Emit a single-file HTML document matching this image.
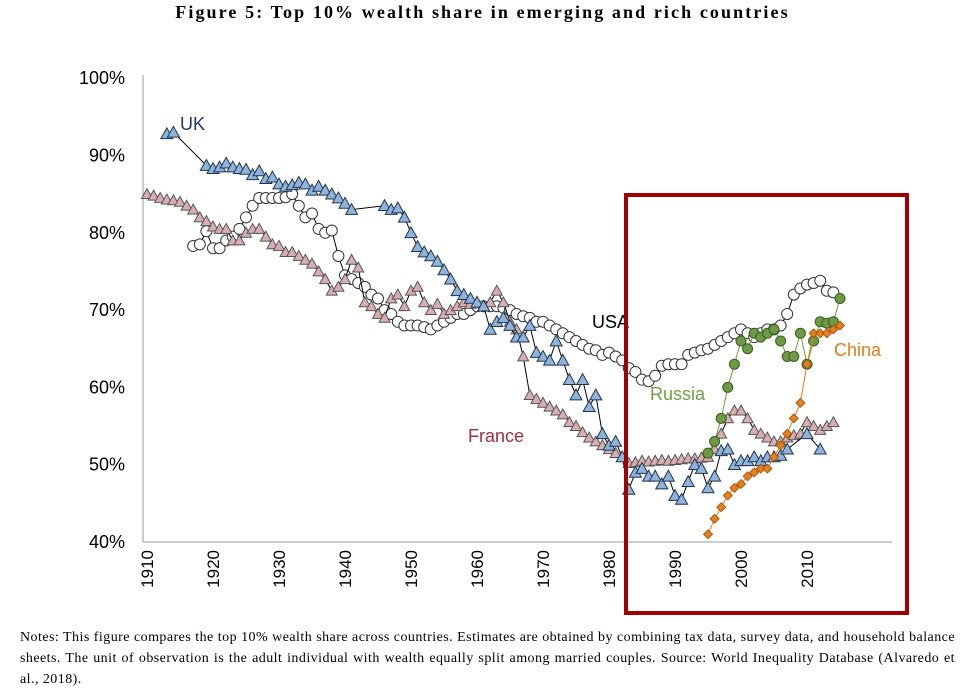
<!DOCTYPE html>
<html><head><meta charset="utf-8"><style>
body{margin:0;background:#fff;width:965px;height:700px;overflow:hidden;font-family:"Liberation Sans",sans-serif}
#title{position:absolute;top:2px;left:0;width:965px;text-align:center;font:bold 18px "Liberation Serif",serif;letter-spacing:2.1px}
#notes{position:absolute;top:627px;left:20px;width:935px;font:14px/21px "Liberation Serif",serif;letter-spacing:0.45px;text-align:justify}
svg{position:absolute;top:0;left:0}
</style></head><body>
<div id="title">Figure 5: Top 10% wealth share in emerging and rich countries</div>
<svg id="chart" width="965" height="700"></svg>
<div id="notes">Notes: This figure compares the top 10% wealth share across countries. Estimates are obtained by combining tax data, survey data, and household balance sheets. The unit of observation is the adult individual with wealth equally split among married couples. Source: World Inequality Database (Alvaredo et al., 2018).</div>
<script>
const yTicks=[40,50,60,70,80,90,100];
const xTicks=[1910,1920,1930,1940,1950,1960,1970,1980,1990,2000,2010];
const ukYears=[1913,1914,1919,1920,1921,1922,1923,1924,1925,1926,1927,1928,1929,1930,1931,1932,1933,1934,1935,1936,1937,1938,1939,1940,1941,1946,1947,1948,1949,1950,1951,1952,1953,1954,1955,1956,1957,1958,1959,1960,1961,1962,1963,1964,1965,1966,1967,1968,1969,1970,1971,1972,1973,1974,1975,1976,1977,1978,1979,1980,1981,1982,1983,1984,1985,1986,1987,1988,1989,1990,1991,1992,1993,1994,1995,1996,1997,1998,1999,2000,2001,2002,2003,2004,2005,2006,2007,2010,2012];
const ukValues=[92.8,93,88.7,88.3,88.5,89,88.5,88.3,88.2,87.5,88,87,87.2,86.3,86,86.2,86.5,86.3,85.5,86,85.5,85,84.5,83.8,83,83.5,83,83.2,82,80,78.2,77.5,77,76.3,75.2,74,72.5,72,71.5,71,70.5,67.5,68.5,69,68,66.5,66.5,68,64.5,64,63.5,66,63.5,61,59,61,57.5,59,54,52.5,53,51,46.8,49,49.5,48.5,48.5,47.5,48.5,46,45.5,47.8,50,49.5,47,48.5,51.8,52,50,50.5,50.5,51,50.5,51,51,51.2,52,54,52];
const usYears=[1917,1918,1919,1920,1921,1922,1923,1924,1925,1926,1927,1928,1929,1930,1931,1932,1933,1934,1935,1936,1937,1938,1939,1940,1941,1942,1943,1944,1945,1946,1947,1948,1949,1950,1951,1952,1953,1954,1955,1956,1957,1958,1959,1960,1961,1962,1963,1964,1965,1966,1967,1968,1969,1970,1971,1972,1973,1974,1975,1976,1977,1978,1979,1980,1981,1982,1983,1984,1985,1986,1987,1988,1989,1990,1991,1992,1993,1994,1995,1996,1997,1998,1999,2000,2001,2002,2003,2004,2005,2006,2007,2008,2009,2010,2011,2012,2013,2014];
const usValues=[78.3,78.5,80.2,78,78,79,79.5,80.5,82,83.5,84.5,84.5,84.5,84.5,84.6,85,83.5,82,82.5,80.5,80,80.3,77,74.5,74,73.5,73,72,71.5,70,69.5,68.5,68,68,68,67.8,67.5,68,68.5,69,69.5,69.5,70,70.5,70.5,70.5,70.5,70.3,70,69.5,69.2,69,68.5,68.5,68,67.5,67,66.5,66,65.5,65,64.8,64.2,64.5,64,63.5,62.5,62,61,60.8,61.5,62.8,63,63,63,64.2,64.5,64.8,65,65.5,66,66.5,67,67.5,67,66.5,67,67.5,67.5,68,69.5,72,72.8,73.3,73.5,73.8,72.5,72.3];
const frYears=[1910,1911,1912,1913,1914,1915,1916,1917,1918,1919,1920,1921,1922,1923,1924,1925,1926,1927,1928,1929,1930,1931,1932,1933,1934,1935,1936,1937,1938,1939,1940,1941,1942,1943,1944,1945,1946,1947,1948,1949,1950,1951,1952,1953,1954,1955,1956,1957,1958,1959,1960,1961,1962,1963,1964,1965,1966,1967,1968,1969,1970,1971,1972,1973,1974,1975,1976,1977,1978,1979,1980,1981,1982,1983,1984,1985,1986,1987,1988,1989,1990,1991,1992,1993,1994,1995,1996,1997,1998,1999,2000,2001,2002,2003,2004,2005,2006,2007,2008,2009,2010,2011,2012,2013,2014];
const frValues=[85,84.8,84.5,84.3,84.2,84,83.5,83,82,81.5,80.8,80.5,80.5,79,79,80,80.5,80.5,79.5,78.5,78.3,77.5,77.5,77,76.5,76,75,74,72.5,73,74,76.5,75.5,71,70.5,69.5,69,71.5,72,70.5,72.5,73,71,70,70.8,69.5,70,70.5,71,70.8,71,70.5,71,72.5,71,68.5,67.5,64,59,58.5,58,57.5,57,56.5,55.5,55,54.2,53.5,53,52.5,52,51.5,51,50.2,50.3,50.5,50.4,50.5,50.6,50.5,50.6,50.7,50.8,50.8,50.9,51,52,54,56,57,57,56,54.5,54,53.5,53,53,53.5,53.8,54,55.5,55,54.5,55,55.5];
const ruYears=[1995,1996,1997,1998,1999,2000,2001,2002,2003,2004,2005,2006,2007,2008,2009,2010,2011,2012,2013,2014,2015];
const ruValues=[51.5,53,56,60,63,66,65,67,66.5,67,67.5,66,64,64,67,63,66,68.5,68.3,68.5,71.5];
const cnYears=[1995,1996,1997,1998,1999,2000,2001,2002,2003,2004,2005,2006,2007,2008,2009,2010,2011,2012,2013,2014,2015];
const cnValues=[41,43,44.5,46,47,47.5,48.5,49,49.5,49.5,51,52.5,54,56,58,63,67,67,67,67.5,68];

const NS="http://www.w3.org/2000/svg";
const svg=document.getElementById('chart');
const X=yr=>147+(yr-1910)*6.6;
const Y=v=>542-(v-40)*7.73;
function mk(tag,at,parent){const e=document.createElementNS(NS,tag);for(const k in at)e.setAttribute(k,at[k]);(parent||svg).appendChild(e);return e;}

const axY=mk('line',{x1:143,y1:75,x2:143,y2:542,stroke:'#999','stroke-width':1});


const axX=mk('line',{x1:143,y1:542,x2:892,y2:542,stroke:'#999','stroke-width':1});


yTicks.forEach(v=>{const t=mk('text',{x:125,y:Y(v)+6,'text-anchor':'end','font-size':18,fill:'#000'});t.textContent=v+'%';

});
xTicks.forEach(v=>{const t=mk('text',{x:0,y:0,'text-anchor':'end','font-size':17,fill:'#000',transform:`translate(${X(v)+6},550) rotate(-90)`});t.textContent=v;

});

function series(name,yrs,vals,lineColor,marker,fill,stroke,sz){
 const g=mk('g',{});
 
 
 let d='';yrs.forEach((y,i)=>{d+=(i?'L':'M')+X(y).toFixed(1)+' '+Y(vals[i]).toFixed(1);});
 mk('path',{d:d,fill:'none',stroke:lineColor,'stroke-width':1},g);
 yrs.forEach((y,i)=>{const x=X(y),yy=Y(vals[i]);let m;
  if(marker==='tri')m=mk('polygon',{points:`${x},${yy-sz} ${x-sz},${yy+sz*0.8} ${x+sz},${yy+sz*0.8}`,fill:fill,stroke:stroke,'stroke-width':1},g);
  else if(marker==='circ')m=mk('circle',{cx:x,cy:yy,r:sz,fill:fill,stroke:stroke,'stroke-width':1},g);
  else m=mk('polygon',{points:`${x},${yy-sz} ${x+sz},${yy} ${x},${yy+sz} ${x-sz},${yy}`,fill:fill,stroke:stroke,'stroke-width':0.8},g);
  
  });
}
series('usa',usYears,usValues,'#000','circ','#fff','#333',5.5);
series('france',frYears,frValues,'#000','tri','#d9aeb0','#555',5.5);
series('uk',ukYears,ukValues,'#000','tri','#8fb3da','#1f3550',6);
series('russia',ruYears,ruValues,'#6a9a3a','circ','#6f9a45','#3b5a20',5);
series('china',cnYears,cnValues,'#e07b1a','dia','#e57f20','#a04d00',4.5);

function lab(txt,x,y,c,n){const t=mk('text',{x:x,y:y,'font-size':18,fill:c});t.textContent=txt;

}
lab('UK',180,130,'#1f3864','uk-label');
lab('USA',592,328,'#000','usa-label');
lab('Russia',650,400,'#70a040','russia-label');
lab('China',834,356,'#e07b1a','china-label');
lab('France',468,442,'#a0303a','france-label');

const box=mk('rect',{x:626,y:195,width:281,height:418,fill:'none',stroke:'#a00000','stroke-width':4});


</script>
</body></html>
